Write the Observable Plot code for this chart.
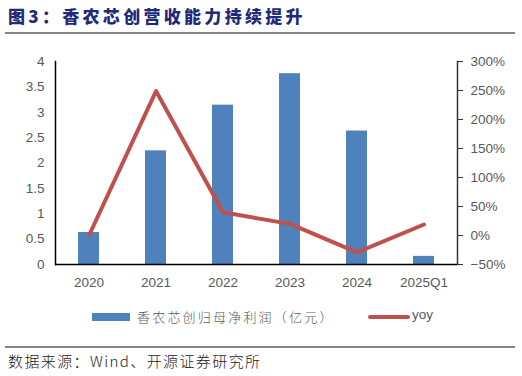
<!DOCTYPE html>
<html><head><meta charset="utf-8">
<script src="https://cdn.jsdelivr.net/npm/d3@7"></script>
<script src="https://cdn.jsdelivr.net/npm/@observablehq/plot@0.6"></script>
<style>
html,body{margin:0;padding:0;background:#fff;}
#wrap{position:relative;width:522px;height:376px;overflow:hidden;font-family:"Liberation Sans",Arial,sans-serif;}
#title{position:absolute;left:8px;top:3px;font-family:"Noto Sans CJK SC";font-weight:900;font-size:17px;letter-spacing:3.3px;color:#1f2a78;white-space:nowrap;}
.sep{position:absolute;left:5px;width:510px;height:2px;background:#858585;}
#chart{position:absolute;left:0;top:40px;}
#legend{position:absolute;left:0;top:306px;width:522px;height:22px;}
#source{position:absolute;left:8px;top:350px;font-family:"Noto Sans CJK SC";font-weight:300;font-size:15px;letter-spacing:1.4px;color:#222;white-space:nowrap;}
.lg{position:absolute;}
</style></head>
<body><div id="wrap">
<div id="title">图3：香农芯创营收能力持续提升</div>
<div class="sep" style="top:32px"></div>
<div id="chart"></div>
<div id="legend"></div>
<div class="sep" style="top:346px"></div>
<div id="source">数据来源：Wind、开源证券研究所</div>
</div>
<script>
const categories = ["2020","2021","2022","2023","2024","2025Q1"];
const profit = [0.63, 2.24, 3.14, 3.76, 2.63, 0.16];      // 亿元
const yoy = [0.00, 2.49, 0.40, 0.20, -0.29, 0.19];        // ratio
const leftTicks = [0,0.5,1,1.5,2,2.5,3,3.5,4];
const rightTicks = [-0.5,0,0.5,1,1.5,2,2.5,3];
const seriesNames = ["香农芯创归母净利润（亿元）","yoy"];

const leftDomain = [0,4];
const rightDomain = [-0.5,3];
const toLeft = v => (v - rightDomain[0]) / (rightDomain[1]-rightDomain[0]) * (leftDomain[1]-leftDomain[0]) + leftDomain[0];
const fromLeft = t => (t - leftDomain[0]) / (leftDomain[1]-leftDomain[0]) * (rightDomain[1]-rightDomain[0]) + rightDomain[0];

const data = categories.map((c,i)=>({cat:c, profit:profit[i], yoy:yoy[i], yoyL:toLeft(yoy[i])}));

const BLUE = "#4f81bd", RED = "#c0504d", GRAY = "#595959";
const FS = 13.5;

const plot = Plot.plot({
  width: 522,
  height: 260,
  marginTop: 21,
  marginBottom: 36,
  marginLeft: 55,
  marginRight: 65,
  style: {fontFamily: "'Liberation Sans', Arial, sans-serif", fontSize: FS + "px", color: GRAY, background: "transparent"},
  x: {domain: categories, paddingInner: 0.69, paddingOuter: 0.345, label: null},
  y: {domain: leftDomain, label: null},
  marks: [
    Plot.barY(data, {x: "cat", y: "profit", fill: BLUE}),
    Plot.line(data, {x: "cat", y: "yoyL", stroke: RED, strokeWidth: 4, strokeLinejoin: "round", strokeLinecap: "round"}),
    Plot.ruleY([0], {stroke: "#000", strokeWidth: 1.5}),
    Plot.frame({anchor: "left", stroke: "#000", strokeWidth: 1.5}),
    Plot.frame({anchor: "right", stroke: "#333", strokeWidth: 1.5}),
    Plot.axisX({tickSize: 0, tickPadding: 13, fill: GRAY, fontSize: FS}),
    Plot.axisY({anchor: "left", ticks: leftTicks, tickSize: 0, tickPadding: 11, fill: GRAY, fontSize: FS, tickFormat: d => String(d)}),
    Plot.axisY({anchor: "right", ticks: rightTicks.map(toLeft), tickSize: 5, tickPadding: 8, stroke: "#333", fill: GRAY, fontSize: FS,
      tickFormat: t => { const v = Math.round(fromLeft(t)*100); return (v < 0 ? "\u2212" + Math.abs(v) : v) + "%"; }})
  ]
});
document.getElementById("chart").appendChild(plot);

const lg = document.getElementById("legend");
lg.innerHTML =
  `<div class="lg" style="left:92px;top:7px;width:38px;height:8px;background:${BLUE}"></div>` +
  `<div class="lg" style="left:137px;top:1px;font-family:'Noto Sans CJK SC';font-size:13px;letter-spacing:2.2px;color:${GRAY};white-space:nowrap;font-weight:300">${seriesNames[0]}</div>` +
  `<div class="lg" style="left:368px;top:9px;width:42px;height:4px;border-radius:2px;background:${RED}"></div>` +
  `<div class="lg" style="left:412px;top:1px;font-size:${FS}px;color:${GRAY}">${seriesNames[1]}</div>`;
</script>
</body></html>
